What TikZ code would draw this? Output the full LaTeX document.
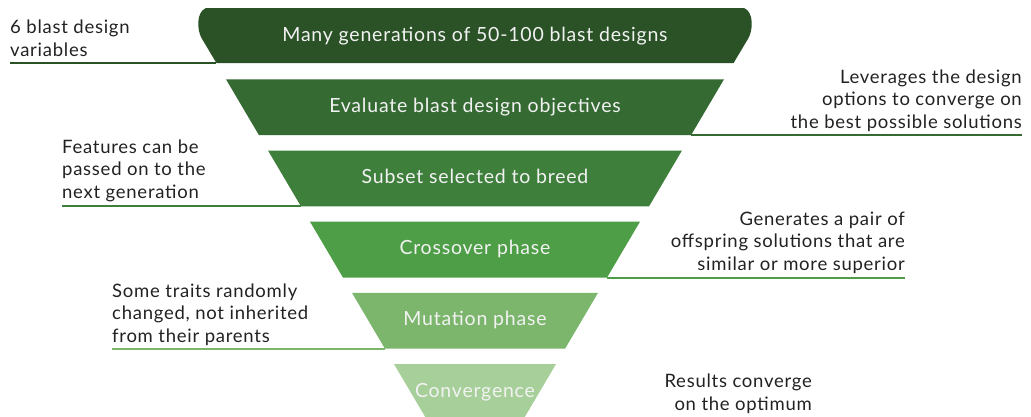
\documentclass[tikz,border=0pt]{standalone}
\usepackage{fontspec}
\setmainfont{Lato}[LetterSpace=4]
\definecolor{cA}{HTML}{2A5226}
\definecolor{cB}{HTML}{356A33}
\definecolor{cC}{HTML}{3F7F3C}
\definecolor{cD}{HTML}{4E9E47}
\definecolor{cE}{HTML}{7BB66C}
\definecolor{cF}{HTML}{A7CF99}
\definecolor{txt}{HTML}{222222}
\begin{document}
\begin{tikzpicture}[x=1pt,y=-1pt,
  bandtext/.style={text=white!95!black,font=\fontsize{19.5}{23}\selectfont,anchor=base,inner sep=0pt},
  note/.style={text=txt,font=\fontsize{18.5}{22.5}\selectfont,inner sep=0pt},
  rule/.style={line width=2pt}]
\useasboundingbox (0,0) rectangle (1031,416);
\clip (0,0) rectangle (1031,416);
% band 1 (rounded top)
\fill[cA] (216.4,63) -- (201.5,38) .. controls (197,30) and (196,12) .. (206,8) -- (744,8) .. controls (754,12) and (753,30) .. (748.5,38) -- (733.6,63) -- cycle;
% bands 2-6 along funnel x_L(y)=226+0.59(y-79.3)
\foreach \t/\c in {79.3/cB,150.5/cC,221.7/cD,292.9/cE,364.1/cF}{
  \pgfmathsetmacro{\b}{\t+55.8}
  \pgfmathsetmacro{\lt}{226+0.59*(\t-79.3)}
  \pgfmathsetmacro{\lb}{226+0.59*(\b-79.3)}
  \fill[\c] (\lt,\t) -- (950-\lt,\t) -- (950-\lb,\b) -- (\lb,\b) -- cycle;
}
\node[bandtext] (b1) at (475,41) {Many generations of 50-100 blast designs};
\node[bandtext] (b2) at (475,112.3) {Evaluate blast design objectives};
\node[bandtext] (b3) at (475,183.5) {Subset selected to breed};
\node[bandtext] (b4) at (475,254.7) {Crossover phase};
\node[bandtext] (b5) at (475,325.9) {Mutation phase};
\node[bandtext] (b6) at (475,397.1) {Convergence};
% rules
\coordinate (r1a) at (10,63);   \coordinate (r1b) at (216.4,63);
\coordinate (r2a) at (690.8,135.1); \coordinate (r2b) at (1022,135.1);
\coordinate (r3a) at (62,206.3); \coordinate (r3b) at (301,206.3);
\coordinate (r4a) at (606.8,277.5); \coordinate (r4b) at (905,277.5);
\coordinate (r5a) at (112,348.7); \coordinate (r5b) at (385,348.7);
\draw[rule,cA] (r1a) -- (r1b);
\draw[rule,cB] (r2a) -- (r2b);
\draw[rule,cC] (r3a) -- (r3b);
\draw[rule,cD] (r4a) -- (r4b);
\draw[rule,cE] (r5a) -- (r5b);
% notes (anchor at last line's baseline)
\node[note,anchor=base west,align=left] (n1) at (10,56) {6 blast design\\variables};
\node[note,anchor=base east,align=right] (n2) at (1022,128) {Leverages the design\\options to converge on\\the best possible solutions};
\node[note,anchor=base west,align=left] (n3) at (62,198) {Features can be\\passed on to the\\next generation};
\node[note,anchor=base east,align=right] (n4) at (905,270) {Generates a pair of\\offspring solutions that are\\similar or more superior};
\node[note,anchor=base west,align=left] (n5) at (112,342) {Some traits randomly\\changed, not inherited\\from their parents};
\node[note,anchor=base east,align=right] (n6) at (812,410) {Results converge\\on the optimum};
\end{tikzpicture}
\end{document}
